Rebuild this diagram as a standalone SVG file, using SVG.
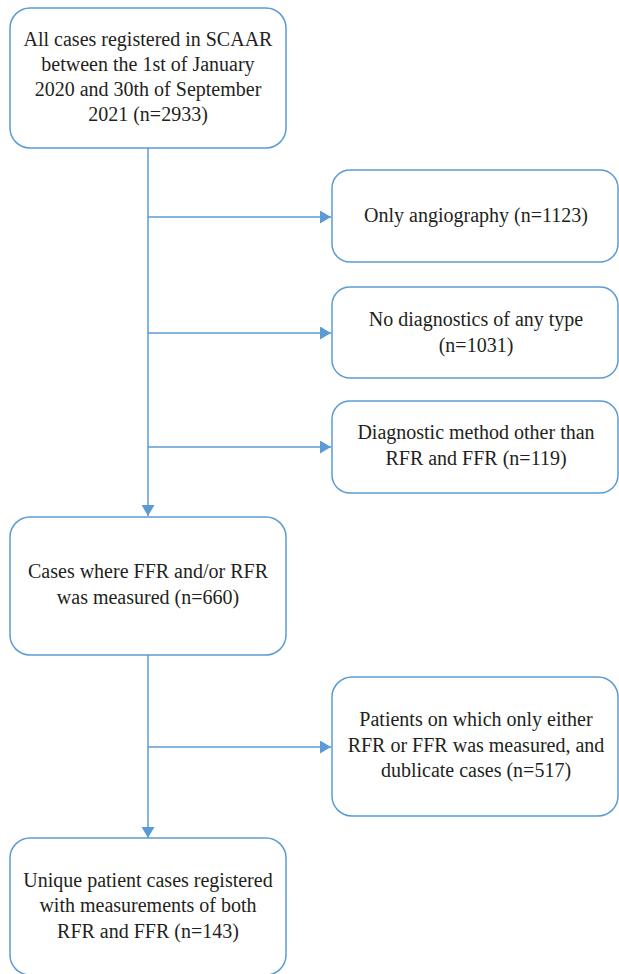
<svg xmlns="http://www.w3.org/2000/svg" width="619" height="974" viewBox="0 0 619 974">
<style>
.box{fill:#fff;stroke:#5b9bd5;stroke-width:1.5}
.ln{stroke:#5b9bd5;stroke-width:1.5;fill:none}
</style>
<defs>
<marker id="ah" viewBox="0 0 11 13" refX="11" refY="6.5" markerWidth="11" markerHeight="13" markerUnits="userSpaceOnUse" orient="auto">
<path d="M0,0 L11,6.5 L0,13 Z" fill="#5b9bd5"/>
</marker>
</defs>
<rect width="619" height="974" fill="#fff"/>
<g id="connectors">
<line class="ln" x1="148" y1="148" x2="148" y2="516" marker-end="url(#ah)"/>
<line class="ln" x1="148" y1="217" x2="331" y2="217" marker-end="url(#ah)"/>
<line class="ln" x1="148" y1="333" x2="331" y2="333" marker-end="url(#ah)"/>
<line class="ln" x1="148" y1="447" x2="331" y2="447" marker-end="url(#ah)"/>
<line class="ln" x1="148" y1="655" x2="148" y2="838" marker-end="url(#ah)"/>
<line class="ln" x1="148" y1="747" x2="331" y2="747" marker-end="url(#ah)"/>
</g>
<g font-family="Liberation Serif, serif" font-size="20" fill="#231f20" text-anchor="middle">
<g id="n1">
<rect class="box" x="10" y="8" width="276" height="140" rx="20"/>
<text x="148" y="45.5">All cases registered in SCAAR</text>
<text x="148" y="70.5">between the 1st of January</text>
<text x="148" y="95.5">2020 and 30th of September</text>
<text x="148" y="120.5">2021 (n=2933)</text>
</g>
<g id="n2">
<rect class="box" x="332" y="170" width="286" height="92" rx="18"/>
<text x="476" y="222">Only angiography (n=1123)</text>
</g>
<g id="n3">
<rect class="box" x="332" y="287" width="286" height="91" rx="18"/>
<text x="476" y="326">No diagnostics of any type</text>
<text x="476" y="352">(n=1031)</text>
</g>
<g id="n4">
<rect class="box" x="332" y="401" width="286" height="92" rx="18"/>
<text x="476" y="439">Diagnostic method other than</text>
<text x="476" y="465">RFR and FFR (n=119)</text>
</g>
<g id="n5">
<rect class="box" x="10" y="517" width="276" height="138" rx="20"/>
<text x="148" y="578">Cases where FFR and/or RFR</text>
<text x="148" y="604">was measured (n=660)</text>
</g>
<g id="n6">
<rect class="box" x="332" y="677" width="286" height="139" rx="20"/>
<text x="476" y="726">Patients on which only either</text>
<text x="476" y="752">RFR or FFR was measured, and</text>
<text x="476" y="777">dublicate cases (n=517)</text>
</g>
<g id="n7">
<rect class="box" x="10" y="838" width="276" height="137" rx="20"/>
<text x="148" y="887">Unique patient cases registered</text>
<text x="148" y="912">with measurements of both</text>
<text x="148" y="938">RFR and FFR (n=143)</text>
</g>
</g>
</svg>
